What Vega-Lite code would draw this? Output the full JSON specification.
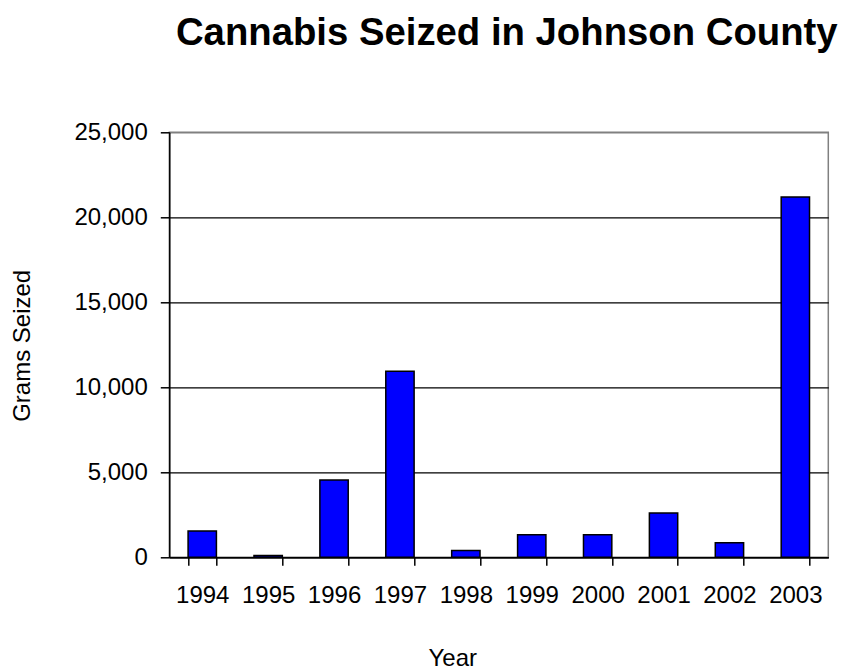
{
  "$schema": "https://vega.github.io/schema/vega-lite/v6.json",
  "autosize": {"type": "none"},
  "width": 659,
  "height": 425,
  "padding": {"left": 169.3, "top": 132.3, "right": 14.7, "bottom": 113.7},
  "background": "white",
  "title": {
    "text": "Cannabis Seized in Johnson County",
    "font": "Liberation Sans",
    "fontSize": 38.3,
    "fontWeight": "bold",
    "color": "black",
    "anchor": "middle",
    "dx": 8,
    "offset": 67
  },
  "config": {
    "view": {"stroke": "#808080", "strokeWidth": 1.5},
    "axis": {
      "labelFont": "Liberation Sans",
      "titleFont": "Liberation Sans",
      "labelFontSize": 24,
      "titleFontSize": 24,
      "titleFontWeight": "normal",
      "labelColor": "black",
      "titleColor": "black",
      "domainColor": "black",
      "tickColor": "black",
      "domainWidth": 1.5,
      "tickWidth": 1.5,
      "zindex": 1
    }
  },
  "data": {
    "values": [
      {"Year": "1994", "Grams": 1550},
      {"Year": "1995", "Grams": 100},
      {"Year": "1996", "Grams": 4550},
      {"Year": "1997", "Grams": 10950},
      {"Year": "1998", "Grams": 400},
      {"Year": "1999", "Grams": 1330},
      {"Year": "2000", "Grams": 1330},
      {"Year": "2001", "Grams": 2600},
      {"Year": "2002", "Grams": 860},
      {"Year": "2003", "Grams": 21200}
    ]
  },
  "mark": {"type": "bar", "fill": "#0000FF", "stroke": "black", "strokeWidth": 1.5},
  "encoding": {
    "x": {
      "field": "Year",
      "type": "ordinal",
      "scale": {"paddingInner": 0.57, "paddingOuter": 0.285},
      "axis": {
        "title": "Year",
        "labelAngle": 0,
        "tickBand": "extent",
        "tickSize": 8,
        "labelPadding": 18,
        "titleX": 283,
        "titleY": 108,
        "titleBaseline": "alphabetic",
        "titleAnchor": null
      }
    },
    "y": {
      "field": "Grams",
      "type": "quantitative",
      "scale": {"domain": [0, 25000], "nice": false},
      "axis": {
        "title": "Grams Seized",
        "values": [0, 5000, 10000, 15000, 20000, 25000],
        "format": ",d",
        "grid": true,
        "gridColor": {"condition": {"test": "datum.value == 25000", "value": "#808080"}, "value": "black"},
        "gridWidth": 1.2,
        "tickSize": 9,
        "labelPadding": 13,
        "titleX": -140,
        "titleY": 213,
        "titleAngle": -90,
        "titleAlign": "center",
        "titleBaseline": "alphabetic"
      }
    }
  }
}
